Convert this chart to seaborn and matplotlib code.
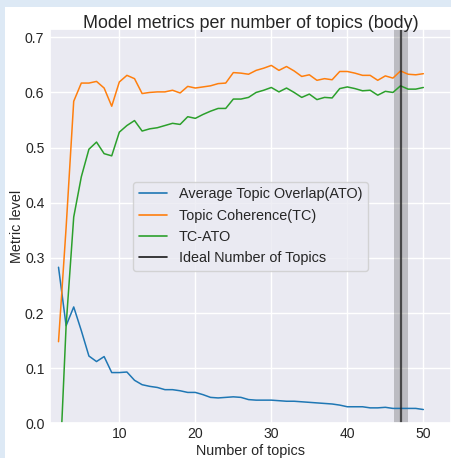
import numpy as np
import pandas as pd
import matplotlib
matplotlib.use("Agg")
import matplotlib.pyplot as plt
from matplotlib.patches import Rectangle
import seaborn as sns

# ---- data ----
n_topics = list(range(2, 51))

ato = [0.283, 0.177, 0.211, 0.168, 0.122, 0.112, 0.121, 0.092, 0.092, 0.093,
       0.078, 0.070, 0.067, 0.065, 0.061, 0.061, 0.059, 0.056, 0.056, 0.052,
       0.047, 0.046, 0.047, 0.048, 0.047, 0.043, 0.042, 0.042, 0.042, 0.041,
       0.040, 0.040, 0.039, 0.038, 0.037, 0.036, 0.035, 0.033, 0.030, 0.030,
       0.030, 0.028, 0.028, 0.029, 0.027, 0.027, 0.027, 0.027, 0.025]

tc = [0.148, 0.355, 0.584, 0.617, 0.617, 0.620, 0.608, 0.575, 0.619, 0.631,
      0.625, 0.598, 0.600, 0.601, 0.601, 0.604, 0.599, 0.611, 0.608, 0.610,
      0.612, 0.616, 0.617, 0.636, 0.635, 0.633, 0.640, 0.644, 0.649, 0.640,
      0.647, 0.639, 0.629, 0.632, 0.622, 0.625, 0.623, 0.638, 0.638, 0.635,
      0.631, 0.631, 0.622, 0.630, 0.626, 0.639, 0.633, 0.632, 0.634]

tc_ato = [-0.135, 0.177, 0.374, 0.447, 0.497, 0.510, 0.489, 0.485, 0.528, 0.540,
          0.549, 0.530, 0.534, 0.536, 0.540, 0.544, 0.542, 0.556, 0.553, 0.560,
          0.566, 0.571, 0.571, 0.588, 0.588, 0.591, 0.600, 0.604, 0.609, 0.601,
          0.608, 0.600, 0.591, 0.597, 0.587, 0.591, 0.590, 0.607, 0.610, 0.607,
          0.603, 0.604, 0.595, 0.602, 0.600, 0.612, 0.606, 0.606, 0.609]

ideal_topics = 47
ideal_band = (46.1, 48.0)

labels = ["Average Topic Overlap(ATO)", "Topic Coherence(TC)", "TC-ATO",
          "Ideal Number of Topics"]
title = "Model metrics per number of topics (body)"
xlabel = "Number of topics"
ylabel = "Metric level"
xticks = [10, 20, 30, 40, 50]
yticks = [0.0, 0.1, 0.2, 0.3, 0.4, 0.5, 0.6, 0.7]

# ---- style ----
sns.set_theme(style="darkgrid")
plt.rcParams["font.family"] = ["Liberation Sans", "DejaVu Sans"]

W, H = 451, 458
fig = plt.figure(figsize=(W / 100, H / 100), dpi=100)
fig.patch.set_facecolor("#dde9f5")
fig.patches.append(Rectangle((5 / W, 0), 1 - 5 / W, 1 - 7 / H,
                             transform=fig.transFigure, facecolor="white",
                             edgecolor="none", zorder=-10))

ax = fig.add_axes([50 / W, (H - 423.3) / H, (W - 50) / W, (423.3 - 29.3) / H])

df = pd.DataFrame({"x": n_topics, "ato": ato, "tc": tc, "tcato": tc_ato})
colors = ["#1f77b4", "#ff7f0e", "#2ca02c"]
for col, lab, c in zip(["ato", "tc", "tcato"], labels[:3], colors):
    sns.lineplot(data=df, x="x", y=col, ax=ax, color=c, linewidth=1.1, label=lab)

ax.axvspan(*ideal_band, color="k", alpha=0.22, linewidth=0)
ax.axvline(ideal_topics, color="k", alpha=0.72, linewidth=1.6, label=labels[3])

ax.set_xlim(0.88, 53.64)
ax.set_ylim(0, 0.7145)
ax.set_xticks(xticks)
ax.set_yticks(yticks)
ax.set_yticklabels([f"{v:.1f}" for v in yticks])
ax.tick_params(axis="both", length=0, labelsize=10.1, colors="#262626")
ax.tick_params(axis="x", pad=2.5)
ax.tick_params(axis="y", pad=4)

ax.set_title(title, fontsize=12.9, pad=1, color="#262626")
ax.set_xlabel(xlabel, fontsize=10.4, labelpad=2, color="#262626")
ax.set_ylabel(ylabel, fontsize=10.4, labelpad=0.5, color="#262626")

leg = ax.legend(loc="center", fontsize=10.4, frameon=True)
for line in leg.get_lines():
    line.set_linewidth(1.2)
    line.set_alpha(None)

fig.savefig("out.png", dpi=100)
